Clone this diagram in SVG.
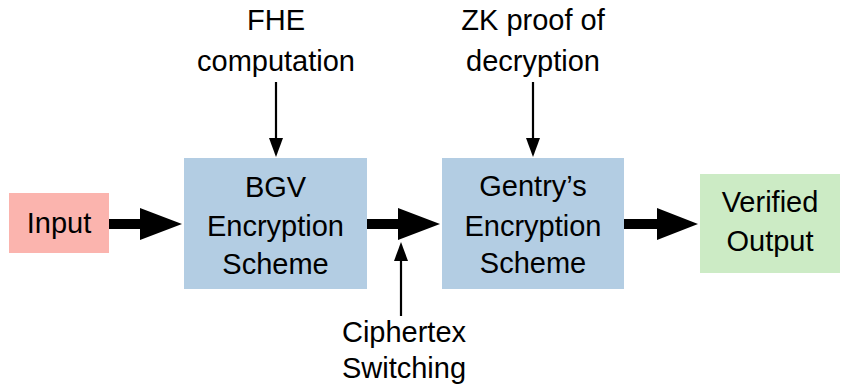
<svg xmlns="http://www.w3.org/2000/svg" width="841" height="387" viewBox="0 0 841 387">
<style>
text{font-family:"Liberation Sans","DejaVu Sans",sans-serif;font-size:29px;fill:#000;text-anchor:middle}
.thick{stroke:#000;stroke-width:10;fill:none}
.thin{stroke:#000;stroke-width:2.2;fill:none}
.head{fill:#000}
</style>
<rect width="841" height="387" fill="#fff"/>
<g id="input"><rect x="9" y="193" width="100" height="60" fill="#FBB4AE"/><text x="59" y="233">Input</text></g>
<g id="bgv"><rect x="184" y="158" width="183" height="131" fill="#B3CDE3"/>
<text x="275.5" y="197">BGV</text><text x="275.5" y="236">Encryption</text><text x="275.5" y="274">Scheme</text></g>
<g id="gentry"><rect x="442" y="158" width="182" height="131" fill="#B3CDE3"/>
<text x="533" y="196">Gentry’s</text><text x="533" y="236">Encryption</text><text x="533" y="273">Scheme</text></g>
<g id="verified"><rect x="700" y="174" width="140" height="99" fill="#CCEBC5"/>
<text x="770" y="212">Verified</text><text x="770" y="251">Output</text></g>
<g id="fhe"><text x="276" y="30">FHE</text><text x="276" y="71">computation</text></g>
<g id="zk"><text x="533" y="30">ZK proof of</text><text x="533" y="71">decryption</text></g>
<g id="switch"><text x="404" y="342">Ciphertex</text><text x="404" y="378">Switching</text></g>
<g id="connectors">
<line class="thick" x1="109" y1="224" x2="142" y2="224"/><polygon class="head" points="140,208 182,224 140,240"/>
<line class="thick" x1="367" y1="224" x2="400" y2="224"/><polygon class="head" points="398,208 440,224 398,240"/>
<line class="thick" x1="624" y1="224" x2="659" y2="224"/><polygon class="head" points="657,208 698,224 657,240"/>
<line class="thin" x1="276" y1="82" x2="276" y2="142"/><polygon class="head" points="269,138 283,138 276,157"/>
<line class="thin" x1="533" y1="82" x2="533" y2="142"/><polygon class="head" points="526,138 540,138 533,157"/>
<line class="thin" x1="401" y1="316" x2="401" y2="258"/><polygon class="head" points="394,261 408,261 401,242"/>
</g>
</svg>
